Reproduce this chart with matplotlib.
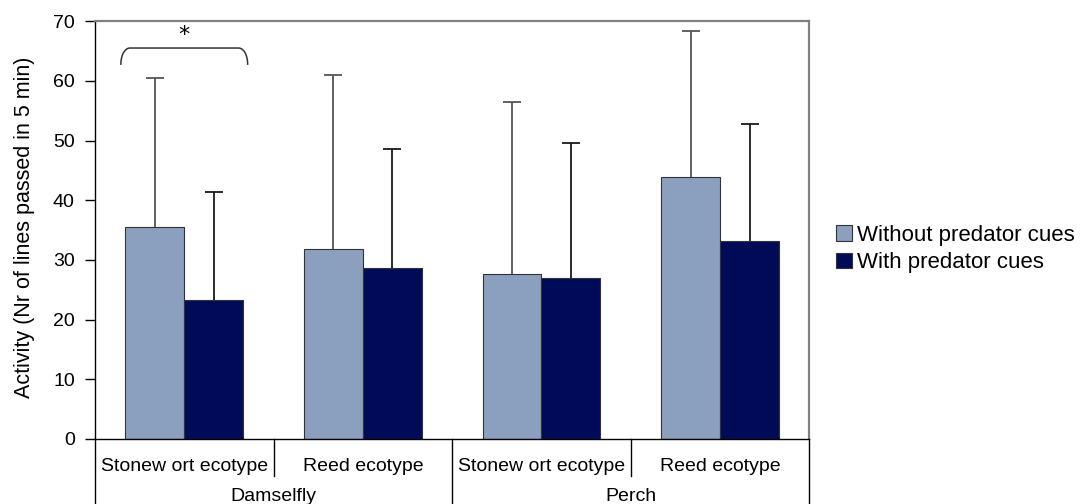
import numpy as np
import matplotlib.pyplot as plt

plt.rcParams['font.family'] = ['Liberation Sans', 'DejaVu Sans']

# ecotype x predator groups
ecotypes = ['Stonew ort ecotype', 'Reed ecotype', 'Stonew ort ecotype', 'Reed ecotype']
predators = ['Damselfly', 'Perch']
series = ['Without predator cues', 'With predator cues']

# mean activity and upper error (mean + SD) per bar
without_mean = [35.5, 31.8, 27.7, 43.9]
without_top = [60.4, 60.9, 56.5, 68.3]
with_mean = [23.3, 28.7, 27.0, 33.1]
with_top = [41.3, 48.6, 49.6, 52.8]

light = '#8B9FBF'
dark = '#000B57'

fig = plt.figure(figsize=(10.89, 5.04), dpi=100)
ax = fig.add_axes([0.0872, 0.129, 0.656, 0.829])

x = np.arange(len(ecotypes))
w = 0.33

b1 = ax.bar(x - w / 2, without_mean, w, color=light, edgecolor='#333333', linewidth=0.8,
            label=series[0], zorder=2)
b2 = ax.bar(x + w / 2, with_mean, w, color=dark, edgecolor='#333333', linewidth=0.8,
            label=series[1], zorder=2)

# upper error bars only (hide the lower cap sitting on the bar top)
err1 = np.array(without_top) - np.array(without_mean)
err2 = np.array(with_top) - np.array(with_mean)
for xs_, m, e, c in [(x - w / 2, without_mean, err1, '#555555'),
                     (x + w / 2, with_mean, err2, '#1a1a1a')]:
    eb = ax.errorbar(xs_, m, yerr=[np.zeros(4), e], fmt='none', ecolor=c,
                     elinewidth=1.3, capsize=6.5, capthick=1.3, zorder=3)
    eb[1][0].set_visible(False)

ax.set_xlim(-0.5, 3.5)
ax.set_ylim(0, 70)
ax.set_yticks(range(0, 71, 10))
ax.tick_params(axis='y', direction='out', length=7.5, width=1, labelsize=14, pad=7)
ax.set_xticks([])
fig.text(25 / 1089, 0.548, 'Activity (Nr of lines passed in 5 min)', rotation=90,
         ha='center', va='center', fontsize=15.5)

for side in ['top', 'right']:
    ax.spines[side].set_color('#808080')
    ax.spines[side].set_linewidth(1.6)
for side in ['left', 'bottom']:
    ax.spines[side].set_color('black')
    ax.spines[side].set_linewidth(1)

# significance bracket over the first damselfly pair
bx0, bx1 = x[0] - w / 2 - 0.19, x[0] + w / 2 + 0.19
by0, by1 = 62.8, 65.5
r = 0.05
t = np.linspace(0, np.pi / 2, 12)
xs = np.concatenate([bx0 + r - r * np.cos(t), bx1 - r + r * np.cos(t[::-1])])
ys = np.concatenate([by0 + (by1 - by0) * np.sin(t), by0 + (by1 - by0) * np.sin(t[::-1])])
ax.plot(xs, ys, color='#333333', lw=1.1, clip_on=False)
ax.text(x[0], 66.0, '*', ha='center', va='bottom', fontsize=16, family='DejaVu Sans')

# two-level category axis
tr = ax.get_xaxis_transform()
for i, lab in enumerate(ecotypes):
    ax.text(x[i], -0.067, lab, transform=tr, ha='center', va='center', fontsize=14)
for i, lab in enumerate(predators):
    ax.text(0.5 + 2 * i, -0.138, lab, transform=tr, ha='center', va='center', fontsize=14)
for xb in [0.5, 2.5]:
    ax.plot([xb, xb], [0, -0.088], transform=tr, color='black', lw=1, clip_on=False)
for xb in [-0.5, 1.5, 3.5]:
    ax.plot([xb, xb], [0, -0.155], transform=tr, color='black', lw=1, clip_on=False)

ax.legend(handles=[b1, b2], loc='center left', bbox_to_anchor=(1.038, 0.455), frameon=False,
          fontsize=16, handlelength=0.72, handleheight=0.72, handletextpad=0.2,
          labelspacing=0.3, borderaxespad=0, borderpad=0)

fig.savefig('out.png', dpi=100)
